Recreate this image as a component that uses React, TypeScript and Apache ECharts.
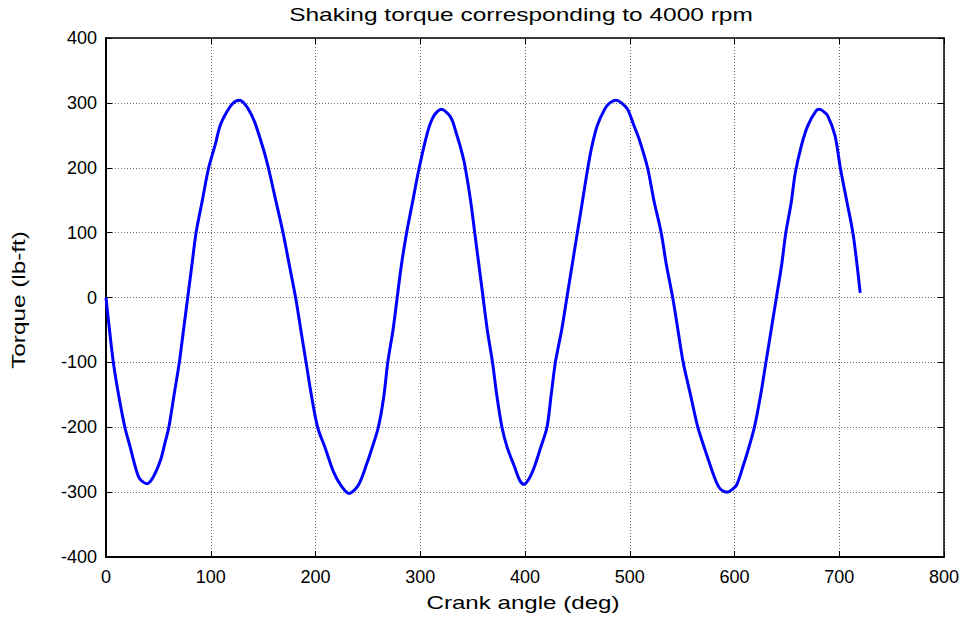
import React, { useEffect, useRef } from "react";
import * as echarts from "echarts";

const titleText = "Shaking torque corresponding to 4000 rpm";
const xAxisName = "Crank angle (deg)";
const yAxisName = "Torque (lb-ft)";

const xTicks = [0, 100, 200, 300, 400, 500, 600, 700, 800];
const yTicks = [-400, -300, -200, -100, 0, 100, 200, 300, 400];

const crankAngle = [
  0, 3, 7, 12, 18, 23, 28, 32, 39, 45, 52, 56, 60, 65, 70, 74, 78, 82, 86, 92, 98, 104, 109, 115, 121, 127, 131, 136, 142,
  150, 155, 162, 169, 175, 181, 186, 191, 196, 202, 209, 217, 224, 232, 241, 249, 254, 260, 265, 269, 274, 278, 282, 287,
  293, 299, 307, 313, 320, 329, 335, 340, 343, 348, 352, 356, 360, 364, 369, 373, 378, 383, 390, 395, 399, 404, 409, 415,
  421, 425, 429, 435, 440, 445, 450, 455, 460, 464, 469, 476, 481, 487, 492, 498, 504, 509, 517, 523, 530, 535, 541, 546,
  551, 558, 565, 574, 582, 587, 593, 597, 602, 608, 613, 619, 625, 630, 635, 640, 645, 649, 654, 658, 664, 670, 678, 681,
  684, 689, 696, 701, 707, 713, 717, 720,
];

const torque = [
  0, -45, -100, -150, -200, -230, -261, -279, -287, -277, -251, -226, -200, -150, -100, -50, 0, 50, 100, 150, 200, 234, 265,
  285, 299, 304, 301, 290, 270, 230, 200, 150, 100, 50, 0, -50, -100, -150, -200, -231, -268, -289, -302, -289, -256, -232,
  -200, -155, -100, -50, 0, 50, 100, 150, 200, 255, 280, 290, 278, 250, 222, 200, 150, 100, 50, 0, -50, -100, -150, -200,
  -231, -261, -282, -288, -279, -261, -231, -200, -150, -100, -50, 0, 50, 100, 150, 200, 234, 265, 290, 300, 304, 300, 290,
  265, 244, 200, 150, 100, 50, 0, -50, -100, -150, -200, -245, -282, -296, -300, -297, -289, -261, -235, -200, -150, -100,
  -50, 0, 50, 100, 145, 192, 235, 265, 288, 290, 288, 280, 249, 200, 150, 100, 50, 7,
];

const FONT = '"Liberation Sans", Arial, Helvetica, sans-serif';

export default function App() {
  const ref = useRef<HTMLDivElement>(null);

  useEffect(() => {
    if (!ref.current) return;
    const chart = echarts.init(ref.current, null, { renderer: "svg" });
    const seriesData = crankAngle.map((a, i) => [a, torque[i]]);
    const xMin = xTicks[0];
    const xMax = xTicks[xTicks.length - 1];
    const yMin = yTicks[0];
    const yMax = yTicks[yTicks.length - 1];
    const xInt = xTicks[1] - xTicks[0];
    const yInt = yTicks[1] - yTicks[0];

    const gridLine = { show: true, lineStyle: { color: "#6a6a6a", type: [1, 2] as any, width: 1 } };

    chart.setOption({
      animation: false,
      backgroundColor: "#ffffff",
      grid: { left: 106, right: 24, top: 38, bottom: 61, containLabel: false },
      xAxis: [
        {
          type: "value",
          min: xMin,
          max: xMax,
          interval: xInt,
          position: "bottom",
          axisLine: { show: true, onZero: false, lineStyle: { color: "#000", width: 2 } },
          axisTick: { show: true, inside: true, length: 6, lineStyle: { color: "#000", width: 1 } },
          axisLabel: { show: true, color: "#000", fontSize: 18, fontFamily: FONT, margin: 11 },
          splitLine: gridLine,
        },
        {
          type: "value",
          min: xMin,
          max: xMax,
          interval: xInt,
          position: "top",
          axisLine: { show: true, onZero: false, lineStyle: { color: "#000", width: 1.5 } },
          axisTick: { show: true, inside: true, length: 6, lineStyle: { color: "#000", width: 1 } },
          axisLabel: { show: false },
          splitLine: { show: false },
        },
      ],
      yAxis: [
        {
          type: "value",
          min: yMin,
          max: yMax,
          interval: yInt,
          position: "left",
          axisLine: { show: true, onZero: false, lineStyle: { color: "#000", width: 2 } },
          axisTick: { show: true, inside: true, length: 6, lineStyle: { color: "#000", width: 1 } },
          axisLabel: { show: true, color: "#000", fontSize: 18, fontFamily: FONT, margin: 9 },
          splitLine: gridLine,
        },
        {
          type: "value",
          min: yMin,
          max: yMax,
          interval: yInt,
          position: "right",
          axisLine: { show: true, onZero: false, lineStyle: { color: "#000", width: 1.5 } },
          axisTick: { show: true, inside: true, length: 6, lineStyle: { color: "#000", width: 1 } },
          axisLabel: { show: false },
          splitLine: { show: false },
        },
      ],
      series: [
        {
          type: "line",
          xAxisIndex: 0,
          yAxisIndex: 0,
          data: seriesData,
          showSymbol: false,
          smooth: 0.3,
          lineStyle: { color: "#0000ff", width: 3 },
          itemStyle: { color: "#0000ff" },
        },
      ],
      graphic: [
        {
          type: "text",
          x: 521,
          y: 15,
          scaleX: 1.36,
          style: { text: titleText, fontSize: 18, fontFamily: FONT, fill: "#000", align: "center", verticalAlign: "middle" },
        },
        {
          type: "text",
          x: 523,
          y: 603,
          scaleX: 1.34,
          style: { text: xAxisName, fontSize: 18, fontFamily: FONT, fill: "#000", align: "center", verticalAlign: "middle" },
        },
        {
          type: "text",
          x: 19,
          y: 300,
          rotation: Math.PI / 2,
          scaleX: 1.35,
          style: { text: yAxisName, fontSize: 18, fontFamily: FONT, fill: "#000", align: "center", verticalAlign: "middle" },
        },
      ],
    });

    return () => chart.dispose();
  }, []);

  return (
    <div
      ref={ref}
      style={{ position: "fixed", left: 0, top: 0, width: 968, height: 618, background: "#fff" }}
    />
  );
}
